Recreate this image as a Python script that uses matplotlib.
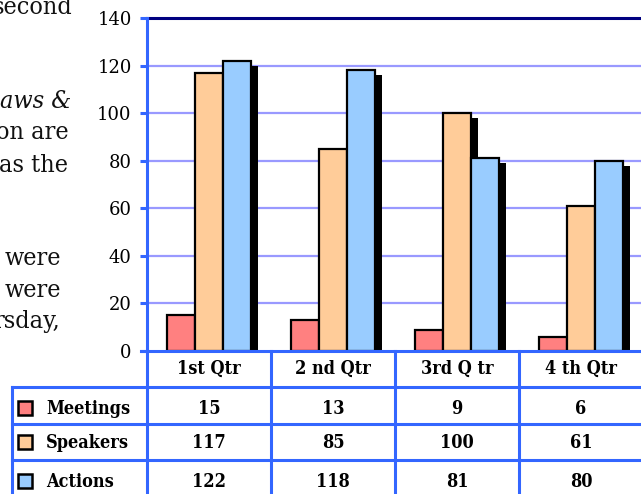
import matplotlib
matplotlib.use('Agg')
import matplotlib.pyplot as plt
from matplotlib.transforms import offset_copy
from matplotlib.patches import Rectangle

quarters = ['1st Qtr', '2 nd Qtr', '3rd Q tr', '4 th Qtr']
series = ['Meetings', 'Speakers', 'Actions']
meetings = [15, 13, 9, 6]
speakers = [117, 85, 100, 61]
actions = [122, 118, 81, 80]
values = [meetings, speakers, actions]
colors = ['#FF8080', '#FFCC99', '#99CCFF']

# stray body text from the page behind the chart: (text, right x px, baseline y px, italic)
page_text = [('second', 73, 14, False), ('aws &', 71, 108, True),
             ('on are', 69, 139, False), ('as the', 68, 172, False),
             ('were', 61, 265, False), ('were', 61, 297, False),
             ('rsday,', 60, 328, False)]

BLUE, GRID, NAVY = '#3366FF', '#9999FF', '#000080'
SERIF = 'DejaVu Serif'
W, H = 641, 494
X0, Y0, YT, CW = 147, 351, 18, 124   # axis origin, top, category width (px)

fig = plt.figure(figsize=(W / 100, H / 100), dpi=100)
fig.patch.set_facecolor('white')

ax = fig.add_axes([X0 / W, 1 - Y0 / H, (W - X0) / W, (Y0 - YT) / H])
ax.set_xlim(0, (W - X0) / CW)
ax.set_ylim(0, 140)
for s in ['top', 'right', 'bottom']:
    ax.spines[s].set_visible(False)
ax.spines['left'].set_color(BLUE)
ax.spines['left'].set_linewidth(2.2)
ax.set_xticks([])
ax.set_yticks(range(0, 141, 20))
ax.tick_params(axis='y', length=5, width=2.2, color=BLUE, pad=6,
               labelsize=13)
for lab in ax.get_yticklabels():
    lab.set_fontfamily(SERIF)
for v in range(20, 140, 20):
    ax.axhline(v, color=GRID, lw=1.6, zorder=0.5)
ax.axhline(140, color=NAVY, lw=2.2, zorder=0.6, clip_on=False)

bw = 28 / CW
shadow = offset_copy(ax.transData, fig=fig, x=7, y=-5, units='dots')
for k, (vals, col) in enumerate(zip(values, colors)):
    xs = [i + 0.5 + (k - 1) * bw for i in range(len(vals))]
    ax.bar(xs, vals, width=bw, color='black', lw=0, transform=shadow,
           zorder=2 + 2 * k)
    ax.bar(xs, vals, width=bw, color=col, edgecolor='black', lw=1.6,
           zorder=3 + 2 * k)

# data table overlay in pixel coordinates
tb = fig.add_axes([0, 0, 1, 1])
tb.set_xlim(0, W)
tb.set_ylim(H, 0)
tb.axis('off')
tb.patch.set_alpha(0)
rows_y = [387, 424, 460]
xr = W + 2
tb.plot([X0 - 6, xr], [Y0, Y0], color=BLUE, lw=2.2, clip_on=False)
for y in rows_y:
    tb.plot([12, xr], [y, y], color=BLUE, lw=2.2, clip_on=False)
tb.plot([12, 12], [rows_y[0], H + 5], color=BLUE, lw=2.2, clip_on=False)
for i in range(len(quarters) + 1):
    x = X0 + i * CW
    tb.plot([x, x], [Y0, H + 5], color=BLUE, lw=2.2, clip_on=False)

tf = dict(fontfamily=SERIF, fontweight='bold', fontsize=13,
          fontstretch='condensed')
for i, q in enumerate(quarters):
    tb.text(X0 + (i + 0.5) * CW, 374, q, ha='center', va='baseline', **tf)
base_y = [414, 448, 487]
for name, vals, col, by in zip(series, values, colors, base_y):
    tb.add_patch(Rectangle((18, by - 13), 14, 14, facecolor=col,
                           edgecolor='black', lw=1.8))
    tb.text(46, by, name, ha='left', va='baseline', **tf)
    for i, v in enumerate(vals):
        tb.text(X0 + (i + 0.5) * CW, by, str(v), ha='center', va='baseline', **tf)

for txt, x, y, it in page_text:
    tb.text(x, y, txt, ha='right', va='baseline', fontsize=18,
            fontfamily=SERIF, fontstretch='condensed',
            style='italic' if it else 'normal', color='#111111')

fig.savefig('out.png', dpi=100)
